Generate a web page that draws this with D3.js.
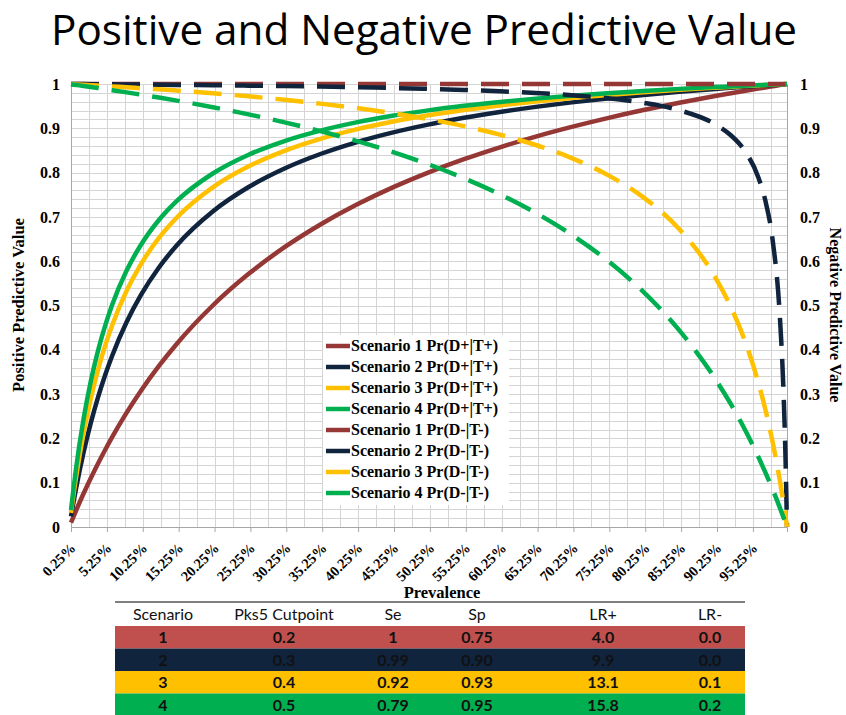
<!DOCTYPE html>
<html>
<head>
<meta charset="utf-8">
<script src="https://cdn.jsdelivr.net/npm/d3@7/dist/d3.min.js"></script>
<style>
  body { margin: 0; background: #fff; }
  svg { display: block; }
</style>
</head>
<body>
<script>
// prevalence in percent
var prevalence = [0.25, 1, 2, 3, 4, 5, 6, 8, 10, 12.5, 15, 20, 25, 30, 35, 40, 45, 50, 55, 60, 65, 70, 75, 80, 85, 90, 92, 94, 96, 97, 98, 99, 99.5, 99.75, 100];

var ppv1 = [0.0099, 0.0388, 0.0755, 0.1101, 0.1429, 0.1739, 0.2034, 0.2581, 0.3077, 0.3636, 0.4138, 0.5, 0.5714, 0.6316, 0.6829, 0.7273, 0.7660, 0.8, 0.8302, 0.8571, 0.8814, 0.9032, 0.9231, 0.9412, 0.9578, 0.9730, 0.9787, 0.9843, 0.9897, 0.9923, 0.9949, 0.9975, 0.9988, 0.9994, 1];
var ppv2 = [0.0242, 0.0909, 0.1681, 0.2344, 0.2920, 0.3426, 0.3872, 0.4626, 0.5238, 0.5858, 0.6360, 0.7122, 0.7674, 0.8093, 0.8420, 0.8684, 0.8901, 0.9083, 0.9237, 0.9369, 0.9484, 0.9585, 0.9674, 0.9754, 0.9825, 0.9889, 0.9913, 0.9936, 0.9958, 0.9969, 0.9979, 0.9990, 0.9995, 0.9997, 1];
var ppv3 = [0.0319, 0.1172, 0.2115, 0.2890, 0.3539, 0.4089, 0.4562, 0.5333, 0.5936, 0.6525, 0.6987, 0.7667, 0.8142, 0.8492, 0.8762, 0.8976, 0.9149, 0.9293, 0.9414, 0.9517, 0.9607, 0.9684, 0.9753, 0.9813, 0.9868, 0.9916, 0.9934, 0.9952, 0.9968, 0.9977, 0.9984, 0.9992, 0.9996, 0.9998, 1];
var ppv4 = [0.0381, 0.1376, 0.2438, 0.3283, 0.3970, 0.4540, 0.5021, 0.5788, 0.6371, 0.6930, 0.7360, 0.7980, 0.8404, 0.8713, 0.8948, 0.9133, 0.9282, 0.9405, 0.9508, 0.9595, 0.9670, 0.9736, 0.9793, 0.9844, 0.9890, 0.9930, 0.9945, 0.9960, 0.9974, 0.9981, 0.9987, 0.9994, 0.9997, 0.9998, 1];

var npv1 = [1, 1, 1, 1, 1, 1, 1, 1, 1, 1, 1, 1, 1, 1, 1, 1, 1, 1, 1, 1, 1, 1, 1, 1, 1, 1, 1, 1, 1, 1, 1, 1, 1, 1, null];
var npv2 = [1.0000, 0.9999, 0.9998, 0.9997, 0.9995, 0.9994, 0.9993, 0.9990, 0.9988, 0.9984, 0.9980, 0.9972, 0.9963, 0.9953, 0.9941, 0.9927, 0.9910, 0.9890, 0.9866, 0.9836, 0.9798, 0.9747, 0.9677, 0.9575, 0.9408, 0.9091, 0.8867, 0.8517, 0.7895, 0.7357, 0.6475, 0.4762, 0.3114, 0.1841, 0];
var npv3 = [0.9998, 0.9991, 0.9982, 0.9973, 0.9964, 0.9955, 0.9945, 0.9926, 0.9905, 0.9879, 0.9851, 0.9790, 0.9721, 0.9644, 0.9557, 0.9458, 0.9343, 0.9208, 0.9049, 0.8857, 0.8623, 0.8328, 0.7949, 0.7440, 0.6723, 0.5636, 0.5027, 0.4260, 0.3263, 0.2645, 0.1918, 0.1051, 0.0552, 0.0283, 0];
var npv4 = [0.9995, 0.9978, 0.9955, 0.9932, 0.9909, 0.9885, 0.9861, 0.9811, 0.9760, 0.9694, 0.9625, 0.9476, 0.9314, 0.9135, 0.8936, 0.8716, 0.8468, 0.8190, 0.7873, 0.7510, 0.7090, 0.6597, 0.6013, 0.5307, 0.4439, 0.3345, 0.2823, 0.2241, 0.1586, 0.1227, 0.0845, 0.0437, 0.0222, 0.0112, 0];

var xTickValues = [0.25, 5.25, 10.25, 15.25, 20.25, 25.25, 30.25, 35.25, 40.25, 45.25, 50.25, 55.25, 60.25, 65.25, 70.25, 75.25, 80.25, 85.25, 90.25, 95.25];
var yTickValues = [0, 0.1, 0.2, 0.3, 0.4, 0.5, 0.6, 0.7, 0.8, 0.9, 1];

var seriesNames = ["Scenario 1 Pr(D+|T+)", "Scenario 2 Pr(D+|T+)", "Scenario 3 Pr(D+|T+)", "Scenario 4 Pr(D+|T+)",
                   "Scenario 1 Pr(D-|T-)", "Scenario 2 Pr(D-|T-)", "Scenario 3 Pr(D-|T-)", "Scenario 4 Pr(D-|T-)"];
var seriesValues = [ppv1, ppv2, ppv3, ppv4, npv1, npv2, npv3, npv4];
var lineColors = ["#953735", "#10243e", "#ffc000", "#00b050"];

// table
var tableHeader = ["Scenario", "Pks5 Cutpoint", "Se", "Sp", "LR+", "LR-"];
var scenarioIds = ["1", "2", "3", "4"];
var cutpoints = ["0.2", "0.3", "0.4", "0.5"];
var seVals = ["1", "0.99", "0.92", "0.79"];
var spVals = ["0.75", "0.90", "0.93", "0.95"];
var lrPlus = ["4.0", "9.9", "13.1", "15.8"];
var lrMinus = ["0.0", "0.0", "0.1", "0.2"];
var rowColors = ["#c0504d", "#10243e", "#ffc000", "#00b050"];

var W = 846, H = 715;
var plot = { left: 71, right: 787, top: 84, bottom: 527 };
var serif = "'Liberation Serif', 'Times New Roman', serif";

var svg = d3.select("body").append("svg")
  .attr("width", W)
  .attr("height", H);

// title, fitted to the width it has in the picture
var title = svg.append("text")
  .attr("x", 424)
  .attr("y", 45)
  .attr("text-anchor", "middle")
  .style("font-family", "'Open Sans', sans-serif")
  .style("font-size", "40px")
  .attr("fill", "#000")
  .text("Positive and Negative Predictive Value");
var tw = title.node().getComputedTextLength();
title.style("font-size", (40 * 746 / tw) + "px");

var x = d3.scaleLinear().domain([0.25, 100]).range([plot.left, plot.right]);
var y = d3.scaleLinear().domain([0, 1]).range([plot.bottom, plot.top]);

// grid
var grid = svg.append("g").attr("stroke", "#d4d4d4").attr("stroke-width", 1);
grid.selectAll("line.h")
  .data(d3.range(0, 51).map(function (i) { return i / 50; }))
  .enter().append("line")
  .attr("x1", plot.left).attr("x2", plot.right)
  .attr("y1", function (d) { return Math.round(y(d)) + 0.5; })
  .attr("y2", function (d) { return Math.round(y(d)) + 0.5; });
grid.selectAll("line.v")
  .data(d3.range(0, 40).map(function (i) { return 0.25 + i * 2.5; }))
  .enter().append("line")
  .attr("y1", plot.top).attr("y2", plot.bottom)
  .attr("x1", function (d) { return Math.round(x(d)) + 0.5; })
  .attr("x2", function (d) { return Math.round(x(d)) + 0.5; });

// axes
var xAxis = d3.axisBottom(x).tickValues(xTickValues).tickSize(5).tickFormat(function (d) { return d + "%"; });
var gx = svg.append("g")
  .attr("transform", "translate(0," + plot.bottom + ")")
  .call(xAxis);
gx.select(".domain").attr("stroke", "#a6a6a6");
gx.selectAll(".tick line").attr("stroke", "#a6a6a6");
gx.selectAll(".tick text")
  .style("font-family", serif)
  .style("font-size", "14.5px")
  .style("font-weight", "bold")
  .attr("fill", "#000")
  .attr("text-anchor", "end")
  .attr("x", 0).attr("y", 0).attr("dy", 0)
  .attr("transform", "translate(5,22) rotate(-45)");

var yFmt = function (d) { return String(d); };
var yAxisL = d3.axisLeft(y).tickValues(yTickValues).tickSize(0).tickPadding(11).tickFormat(yFmt);
var gyl = svg.append("g")
  .attr("transform", "translate(" + plot.left + ",0)")
  .call(yAxisL);
gyl.select(".domain").attr("stroke", "#a6a6a6");

var yAxisR = d3.axisRight(y).tickValues(yTickValues).tickSize(0).tickPadding(13).tickFormat(yFmt);
var gyr = svg.append("g")
  .attr("transform", "translate(" + plot.right + ",0)")
  .call(yAxisR);
gyr.select(".domain").attr("stroke", "#a6a6a6");

[gyl, gyr].forEach(function (g) {
  g.selectAll(".tick text")
    .style("font-family", serif)
    .style("font-size", "16px")
    .style("font-weight", "bold")
    .attr("fill", "#000");
});

// axis titles
svg.append("text")
  .attr("transform", "translate(24,305) rotate(-90)")
  .attr("text-anchor", "middle")
  .style("font-family", serif).style("font-size", "16.5px").style("font-weight", "bold")
  .text("Positive Predictive Value");
svg.append("text")
  .attr("transform", "translate(830,315) rotate(90)")
  .attr("text-anchor", "middle")
  .style("font-family", serif).style("font-size", "16px").style("font-weight", "bold")
  .text("Negative Predictive Value");
svg.append("text")
  .attr("x", 442).attr("y", 598)
  .attr("text-anchor", "middle")
  .style("font-family", serif).style("font-size", "16.5px").style("font-weight", "bold")
  .text("Prevalence");

// lines
var line = d3.line()
  .defined(function (d) { return d[1] !== null; })
  .x(function (d) { return x(d[0]); })
  .y(function (d) { return y(d[1]); })
  .curve(d3.curveMonotoneX);

seriesValues.forEach(function (vals, i) {
  var pts = prevalence.map(function (p, j) { return [p, vals[j]]; });
  svg.append("path")
    .attr("d", line(pts))
    .attr("fill", "none")
    .attr("stroke", lineColors[i % 4])
    .attr("stroke-width", 4.5)
    .attr("stroke-dasharray", i < 4 ? null : "28,13");
});

// legend
var leg = svg.append("g").attr("transform", "translate(323,335)");
leg.append("rect")
  .attr("x", 0).attr("y", 0)
  .attr("width", 186).attr("height", 170)
  .attr("fill", "#fff");
seriesNames.forEach(function (name, i) {
  var yy = 11 + i * 21;
  leg.append("line")
    .attr("x1", 3).attr("x2", 27)
    .attr("y1", yy).attr("y2", yy)
    .attr("stroke", lineColors[i % 4])
    .attr("stroke-width", 4.5);
  leg.append("text")
    .attr("x", 28).attr("y", yy + 5)
    .style("font-family", serif).style("font-size", "16px").style("font-weight", "bold")
    .text(name);
});

// table
var colX = [163, 284, 393, 477, 603, 710];
var tLeft = 115, tRight = 745, tTop = 626, rowH = 22.5;
svg.append("line")
  .attr("x1", tLeft).attr("x2", tRight)
  .attr("y1", 602).attr("y2", 602)
  .attr("stroke", "#7f7f7f").attr("stroke-width", 2);
tableHeader.forEach(function (h, i) {
  svg.append("text")
    .attr("x", colX[i]).attr("y", 620)
    .attr("text-anchor", "middle")
    .style("font-family", "Lato, sans-serif").style("font-size", "16px")
    .attr("fill", "#111")
    .text(h);
});
var rows = scenarioIds.map(function (s, i) {
  return [s, cutpoints[i], seVals[i], spVals[i], lrPlus[i], lrMinus[i]];
});
rows.forEach(function (r, i) {
  svg.append("rect")
    .attr("x", tLeft).attr("y", tTop + i * rowH)
    .attr("width", tRight - tLeft).attr("height", rowH)
    .attr("fill", rowColors[i]);
  r.forEach(function (v, j) {
    svg.append("text")
      .attr("x", colX[j]).attr("y", tTop + i * rowH + 17)
      .attr("text-anchor", "middle")
      .style("font-family", "Lato, sans-serif").style("font-size", "16px").style("font-weight", "bold")
      .attr("fill", "#111")
      .text(v);
  });
});
</script>
</body>
</html>
